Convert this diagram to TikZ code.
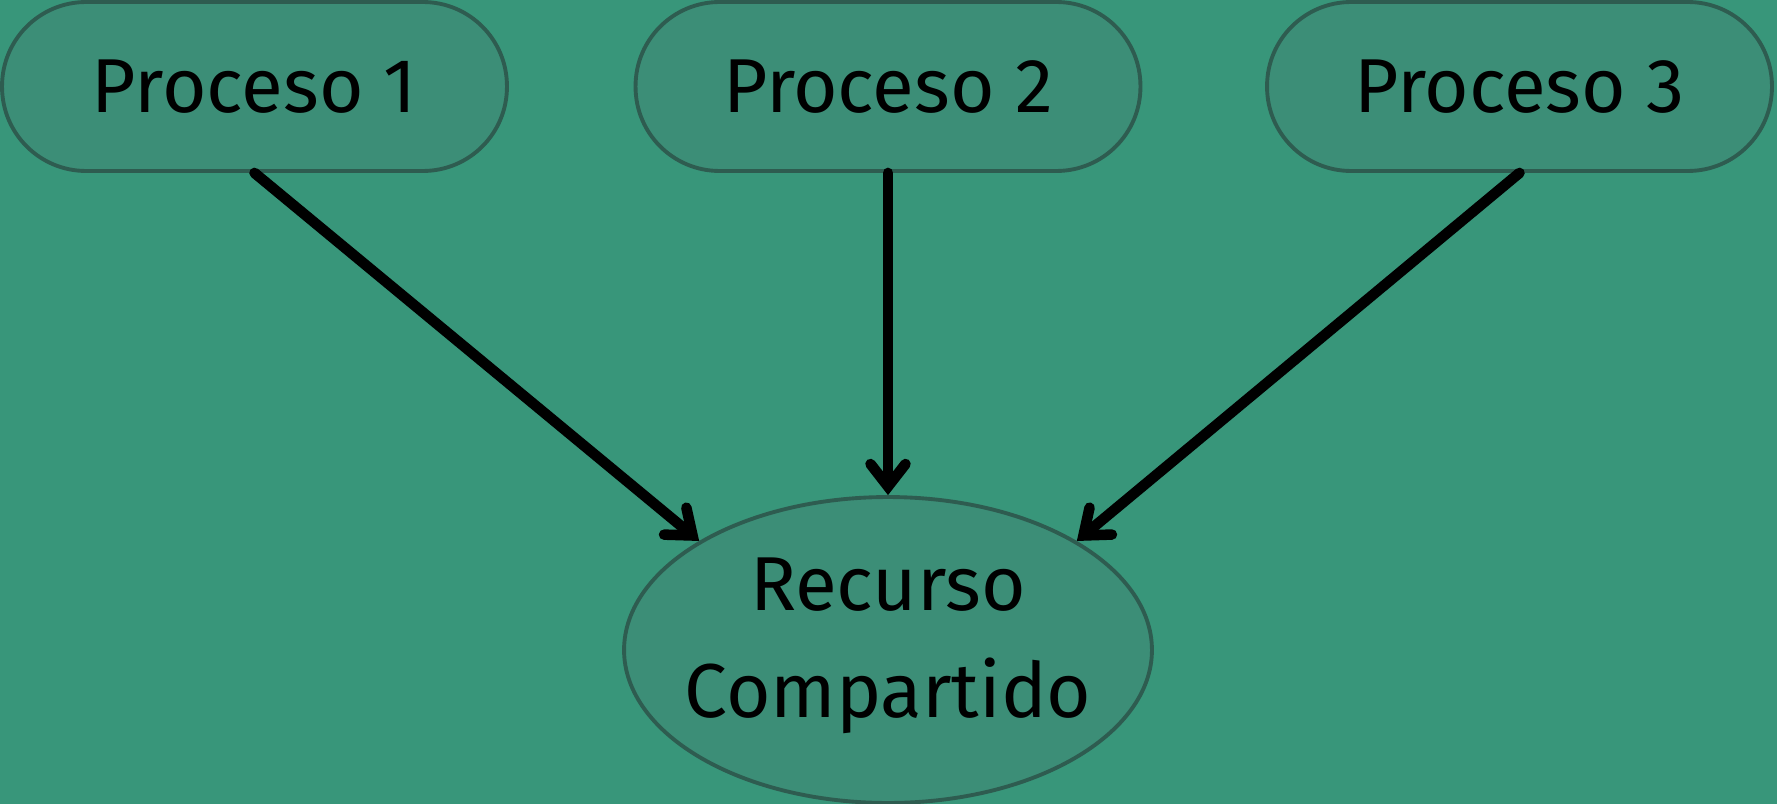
\documentclass[tikz,border=0pt]{standalone}
\usepackage{fontspec}
\setmainfont{Fira Sans}
\usetikzlibrary{arrows.meta,shapes.geometric}
\definecolor{fondo}{RGB}{56,150,122}
\definecolor{relleno}{RGB}{60,142,119}
\definecolor{borde}{RGB}{46,92,80}
\begin{document}
\begin{tikzpicture}[
  x=0.02cm, y=-0.02cm,
  proceso/.style={draw=borde, fill=relleno, line width=2.2pt, rounded corners=1.68cm,
    minimum width=10.1cm, minimum height=3.38cm},
  recurso/.style={ellipse, draw=borde, fill=relleno, line width=2.2pt,
    minimum width=10.56cm, minimum height=6.12cm},
  flecha/.style={draw, line width=6pt, line cap=round,
    -{Straight Barb[length=0.45cm,width=0.7cm,line cap=round]}},
  every node/.style={font=\fontsize{43.5}{61}\selectfont}
]
\fill[fondo] (0,0) rectangle (1777,804);
\useasboundingbox (0,0) rectangle (1777,804);

\node[proceso] (p1) at (254.5,86.5) {Proceso 1};
\node[proceso] (p2) at (888,86.5) {Proceso 2};
\node[proceso] (p3) at (1519.5,86.5) {Proceso 3};

\node[recurso] (rc) at (888,650) {};
\node[align=center] (rctexto) at (888,646) {Recurso\\Compartido};

% flechas hacia el recurso
\draw[flecha] (p1.south) -- (rc.150);
\draw[flecha] (p2.south) -- (rc.north);
\draw[flecha] (p3.south) -- (rc.30);
\end{tikzpicture}
\end{document}
